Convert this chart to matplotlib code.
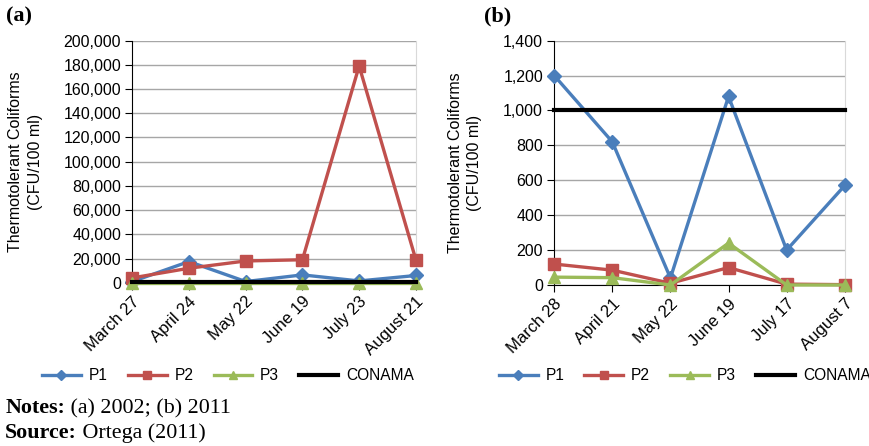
import matplotlib.pyplot as plt
from matplotlib.ticker import FuncFormatter, MultipleLocator

plt.rcParams['font.family'] = ['Liberation Sans', 'DejaVu Sans']

# (a) 2002
dates_a = ["March 27", "April 24", "May 22", "June 19", "July 23", "August 21"]
p1_a = [1000, 17500, 1000, 6500, 1500, 6000]
p2_a = [4000, 12000, 18000, 19000, 179000, 19000]
p3_a = [0, 0, 0, 0, 0, 0]
conama_a = [1000, 1000, 1000, 1000, 1000, 1000]

# (b) 2011
dates_b = ["March 28", "April 21", "May 22", "June 19", "July 17", "August 7"]
p1_b = [1200, 820, 40, 1080, 200, 570]
p2_b = [120, 85, 10, 100, 5, 2]
p3_b = [45, 42, 0, 240, 0, 0]
conama_b = [1000, 1000, 1000, 1000, 1000, 1000]

blue = "#4A7EBB"
red = "#C0504D"
green = "#9BBB59"


def panel(ax, dates, p1, p2, p3, conama, ymax, step):
    x = range(len(dates))
    ax.plot(x, p1, color=blue, lw=2.4, marker="D", ms=7, label="P1", clip_on=False, zorder=3)
    ax.plot(x, p2, color=red, lw=2.4, marker="s", ms=9, label="P2", clip_on=False, zorder=3)
    ax.plot(x, p3, color=green, lw=2.4, marker="^", ms=9, label="P3", clip_on=False, zorder=3)
    ax.plot(x, conama, color="black", lw=3, label="CONAMA", clip_on=False, zorder=4)
    ax.set_xlim(0, len(dates) - 1)
    ax.set_ylim(0, ymax)
    ax.yaxis.set_major_locator(MultipleLocator(step))
    ax.yaxis.set_major_formatter(FuncFormatter(lambda v, p: f"{int(v):,}"))
    ax.grid(axis="y", color="#A6A6A6", lw=1)
    ax.set_axisbelow(True)
    ax.set_xticks(list(x))
    ax.set_xticklabels(dates, rotation=45, ha="right", va="top",
                       rotation_mode="anchor", fontsize=12)
    ax.tick_params(axis="y", labelsize=11.5, length=5, width=0.8, pad=3)
    ax.tick_params(axis="x", length=5, width=0.8, pad=3)
    ax.spines["top"].set_visible(False)
    ax.spines["right"].set_color("#D9D9D9")
    ax.spines["left"].set_color("black")
    ax.spines["bottom"].set_color("black")
    ax.set_ylabel("Thermotolerant Coliforms\n(CFU/100 ml)", fontsize=11.5,
                  labelpad=15, linespacing=1.35)


fig = plt.figure(figsize=(8.7, 4.46), dpi=100)
ax1 = fig.add_axes([0.152, 0.366, 0.326, 0.543])
ax2 = fig.add_axes([0.637, 0.361, 0.334, 0.548])

panel(ax1, dates_a, p1_a, p2_a, p3_a, conama_a, 200000, 20000)
panel(ax2, dates_b, p1_b, p2_b, p3_b, conama_b, 1400, 200)

for ax, cx in [(ax1, 0.262), (ax2, 0.787)]:
    ax.legend(loc="center", bbox_to_anchor=(cx, 0.157), bbox_transform=fig.transFigure,
              ncol=4, frameon=False, fontsize=11.2, markerscale=0.7,
              handlelength=2.5, columnspacing=1.3, handletextpad=0.5,
              borderpad=0, borderaxespad=0)

serif = "Liberation Serif"
fig.text(0.007, 0.952, "(a)", fontsize=16, fontweight="bold", family=serif)
fig.text(0.556, 0.952, "(b)", fontsize=16, fontweight="bold", family=serif)

# notes: bold heading followed by regular text
fig.canvas.draw()
r = fig.canvas.get_renderer()
for y, head, rest in [(0.074, "Notes:", " (a) 2002; (b) 2011"),
                      (0.018, "Source:", " Ortega (2011)")]:
    t = fig.text(0.006, y, head, fontsize=15.8, fontweight="bold", family=serif)
    bb = t.get_window_extent(r)
    fig.text(bb.x1 / fig.bbox.width, y, rest, fontsize=15.8, family=serif)

fig.savefig("out.png", dpi=100)
